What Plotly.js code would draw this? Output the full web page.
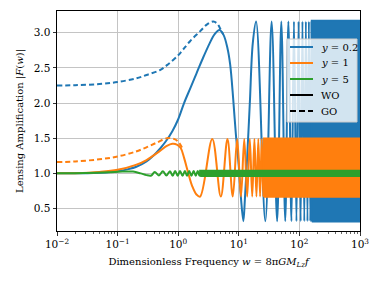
<!DOCTYPE html>
<html><head><meta charset="utf-8">
<script src="https://cdn.plot.ly/plotly-3.0.1.min.js"></script>
<style>html,body{margin:0;padding:0;background:#fff;}#chart{width:381px;height:286px;}</style>
</head><body><div id="chart"></div>
<script>
// ---------- data ----------
// y = 0.2, wave optics
const blueWO_w = [0.01,0.02,0.04,0.07,0.1,0.15,0.2,0.3,0.4,0.5,0.63,0.8,1.0,1.25,1.6,2.0,2.5,3.3,4.0,4.8,5.6,6.5,7.2,8.1,8.9,10.0,10.9,11.9,12.6,13.5,14.4,15.3,17.0,19.3,
  27.4,34.8,42.9,50.3,58.4,65.8,73.9,81.3,89.4,96.8,104.9,112.3,120.4,127.8,135.9,143.3,151.4,158.8,166.9];
const blueWO_F = [1.00,1.002,1.006,1.015,1.03,1.06,1.09,1.17,1.26,1.35,1.46,1.60,1.77,2.00,2.22,2.42,2.62,2.85,2.98,3.04,2.97,2.78,2.55,2.05,1.58,1.10,0.63,0.32,0.63,1.10,1.58,2.05,2.85,3.16,
  0.32,3.16,0.32,3.16,0.32,3.16,0.32,3.16,0.32,3.16,0.32,3.16,0.32,3.16,0.32,3.16,0.32,3.16,0.32];
const blueBand_w = [160, 1000];
const blueBand_F = [0.316, 3.17];
// y = 0.2, geometric optics
const blueGO_w = [0.01,0.02,0.05,0.1,0.2,0.3,0.5,0.7,1.0,1.2,1.57,2.29,3.0,3.8,4.4,5.0,5.5];
const blueGO_F = [2.25,2.255,2.27,2.30,2.35,2.40,2.47,2.56,2.68,2.76,2.88,3.02,3.12,3.16,3.13,3.05,2.98];

// y = 1, wave optics
const orangeWO_w = [0.01,0.02,0.05,0.1,0.2,0.3,0.5,0.65,0.8,0.95,1.1,1.25,1.47,1.7,2.0,2.3,
  3.65,5.05,6.5,7.95,9.4,10.85,12.3,13.75,15.2,16.65,18.1,19.55,21.0,22.45,23.9,25.35,26.8,28.25,29.7];
const orangeWO_F = [1.00,1.003,1.02,1.05,1.12,1.19,1.32,1.39,1.42,1.41,1.36,1.22,1.00,0.82,0.70,0.67,
  1.49,0.67,1.49,0.67,1.49,0.67,1.49,0.67,1.49,0.67,1.49,0.67,1.49,0.67,1.49,0.67,1.49,0.67,1.49];
const orangeBand_w = [26, 1000];
const orangeBand_F = [0.669, 1.495];
// y = 1, geometric optics
const orangeGO_w = [0.01,0.02,0.05,0.1,0.2,0.3,0.45,0.65,0.85,1.0,1.2];
const orangeGO_F = [1.16,1.17,1.20,1.24,1.31,1.37,1.44,1.50,1.49,1.45,1.34];

// y = 5, wave optics
const greenWO_w = [0.01,0.03,0.07,0.12,0.18,0.24,0.3,0.36,0.41,0.48,0.56,0.64,0.73,0.81,0.89,0.98,1.07,1.18,1.29,1.4,1.52,1.65,1.8,1.95,2.1,2.25,2.4,2.6];
const greenWO_F = [1.00,1.005,1.015,1.025,1.025,1.00,0.975,0.97,1.02,0.97,1.03,0.97,1.03,0.965,1.035,0.965,1.035,0.965,1.035,0.965,1.035,0.965,1.035,0.965,1.035,0.965,1.035,0.965];
const greenBand_w = [2.3, 1000];
const greenBand_F = [0.963, 1.037];

const seriesNames = ['y = 0.2', 'y = 1', 'y = 5'];
const legendLabels = ['<i>y</i> = 0.2', '<i>y</i> = 1', '<i>y</i> = 5', 'WO', 'GO'];
const colors = ['#1f77b4', '#ff7f0e', '#2ca02c'];
const xExponents = [-2, -1, 0, 1, 2, 3];
const yTicks = [0.5, 1.0, 1.5, 2.0, 2.5, 3.0];

// ---------- build ----------
const FONT = 'DejaVu Serif, serif';
function band(w, F, c, name) {
  return {x: [w[0], w[1], w[1], w[0], w[0]], y: [F[0], F[0], F[1], F[1], F[0]],
    mode: 'lines', fill: 'toself', fillcolor: c, line: {color: c, width: 2},
    showlegend: false, hoverinfo: 'skip', name: name};
}
function curve(w, F, c, dash, name) {
  return {x: w, y: F, mode: 'lines', line: {color: c, width: 2, shape: 'spline', dash: dash},
    showlegend: false, name: name};
}
const traces = [
  curve(blueWO_w, blueWO_F, colors[0], 'solid', seriesNames[0] + ' WO'),
  band(blueBand_w, blueBand_F, colors[0], seriesNames[0] + ' WO'),
  curve(blueGO_w, blueGO_F, colors[0], '5px,3px', seriesNames[0] + ' GO'),
  curve(orangeWO_w, orangeWO_F, colors[1], 'solid', seriesNames[1] + ' WO'),
  band(orangeBand_w, orangeBand_F, colors[1], seriesNames[1] + ' WO'),
  curve(orangeGO_w, orangeGO_F, colors[1], '5px,3px', seriesNames[1] + ' GO'),
  curve(greenWO_w, greenWO_F, colors[2], 'solid', seriesNames[2] + ' WO'),
  band(greenBand_w, greenBand_F, colors[2], seriesNames[2] + ' WO')
];

const L = 57, R = 360, T = 11, B = 231;
const px = x => (x - L) / (R - L);
const py = y => (B - y) / (B - T);

const minorVals = [];
for (let e = -2; e < 3; e++) for (let d = 2; d <= 9; d++) minorVals.push(d * Math.pow(10, e));

// manual legend
const shapes = [{type: 'rect', xref: 'paper', yref: 'paper', x0: px(287), x1: px(357), y0: py(122), y1: py(39),
  fillcolor: 'rgba(255,255,255,0.8)', line: {color: '#cccccc', width: 1}, layer: 'above'}];
const annotations = [];
const legendColors = [colors[0], colors[1], colors[2], '#000', '#000'];
const legendDash = ['solid', 'solid', 'solid', 'solid', 'dash'];
legendLabels.forEach((lab, i) => {
  const yy = 47 + i * 16;
  if (legendDash[i] === 'dash') {
    [[290, 296], [299, 305], [308, 313]].forEach(seg => shapes.push({type: 'line', xref: 'paper', yref: 'paper',
      x0: px(seg[0]), x1: px(seg[1]), y0: py(yy), y1: py(yy), line: {color: legendColors[i], width: 2}, layer: 'above'}));
  } else {
    shapes.push({type: 'line', xref: 'paper', yref: 'paper', x0: px(290), x1: px(313), y0: py(yy), y1: py(yy),
      line: {color: legendColors[i], width: 2}, layer: 'above'});
  }
  annotations.push({xref: 'paper', yref: 'paper', x: px(319), y: py(yy), xanchor: 'left', yanchor: 'middle',
    text: lab, showarrow: false, font: {family: FONT, size: 10, color: '#000'}});
});

const layout = {
  width: 381, height: 286,
  margin: {l: L, r: 381 - R, t: T, b: 286 - B, pad: 0},
  paper_bgcolor: '#fff', plot_bgcolor: '#fff',
  showlegend: false,
  font: {family: FONT, size: 10.5, color: '#000'},
  xaxis: {
    type: 'log', range: [-2, 3], tickmode: 'array',
    tickvals: xExponents.map(e => Math.pow(10, e)),
    ticktext: xExponents.map(e => '10<sup>' + (e < 0 ? '\u2212' : '') + Math.abs(e) + '</sup>'),
    showgrid: true, gridcolor: '#c4c4c4', gridwidth: 1,
    ticks: 'outside', ticklen: 3.5, tickwidth: 0.8, tickcolor: '#000',
    showline: true, linecolor: '#000', linewidth: 1, mirror: true, zeroline: false,
    minor: {tickmode: 'array', tickvals: minorVals, ticks: 'outside', ticklen: 2, tickwidth: 0.6, tickcolor: '#000', showgrid: false},
    tickfont: {family: FONT, size: 10.5},
    title: {text: 'Dimensionless Frequency <i>w</i> = 8\u03c0<i>GM</i><sub><i>Lz</i></sub><i>f</i>', font: {family: FONT, size: 10}, standoff: 8},
    automargin: false
  },
  yaxis: {
    range: [0.18, 3.31], tickmode: 'array', tickvals: yTicks, ticktext: yTicks.map(v => v.toFixed(1)),
    showgrid: true, gridcolor: '#c4c4c4', gridwidth: 1,
    ticks: 'outside', ticklen: 3.5, tickwidth: 0.8, tickcolor: '#000',
    showline: true, linecolor: '#000', linewidth: 1, mirror: true, zeroline: false,
    tickfont: {family: FONT, size: 10.5},
    title: {text: 'Lensing Amplification |<i>F</i>(<i>w</i>)|', font: {family: FONT, size: 10}, standoff: 8},
    automargin: false
  },
  shapes: shapes, annotations: annotations
};
Plotly.newPlot('chart', traces, layout, {staticPlot: true, displayModeBar: false});
</script></body></html>
